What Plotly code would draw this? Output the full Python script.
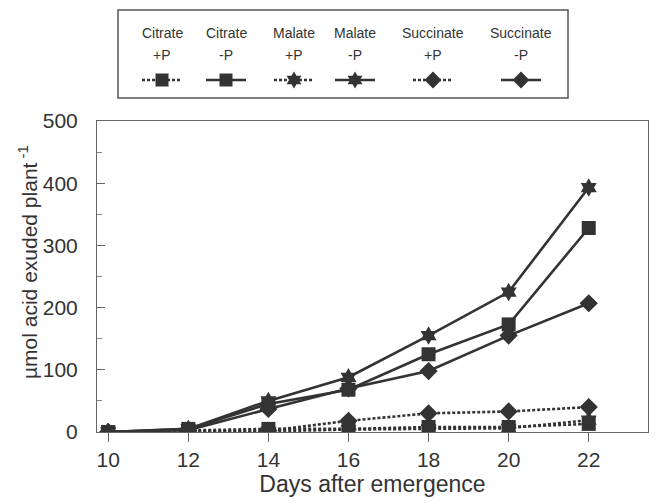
import plotly.graph_objects as go

days = [10, 12, 14, 16, 18, 20, 22]
citrate_plusP = [0, 2, 5, 5, 8, 8, 13]
citrate_minusP = [0, 5, 45, 68, 125, 173, 328]
malate_plusP = [0, 0, 1, 4, 5, 6, 19]
malate_minusP = [0, 5, 50, 88, 155, 225, 393]
succinate_plusP = [0, 0, 2, 18, 30, 33, 40]
succinate_minusP = [0, 3, 37, 70, 98, 155, 207]

legend_line1 = ["Citrate", "Citrate", "Malate", "Malate", "Succinate", "Succinate"]
legend_line2 = ["+P", "-P", "+P", "-P", "+P", "-P"]

INK = "#333333"
FONT = "Liberation Sans, Arial, sans-serif"

W, H = 659, 503
ML, MR, MT, MB = 97, 11, 5, 71
PW = W - ML - MR
PH = H - MT - MB
def py(pix):  # pixel y -> paper y
    return (H - MB - pix) / PH
def px(pix):
    return (pix - ML) / PW

DOT = "3px,2px"
series = [
    ("Citrate +P", citrate_plusP, "square", 14, DOT),
    ("Citrate -P", citrate_minusP, "square", 14, "solid"),
    ("Malate +P", malate_plusP, "hexagram", 14, DOT),
    ("Malate -P", malate_minusP, "hexagram", 14, "solid"),
    ("Succinate +P", succinate_plusP, "diamond", 14, DOT),
    ("Succinate -P", succinate_minusP, "diamond", 14, "solid"),
]

fig = go.Figure()
order = [0, 2, 4, 1, 3, 5]
for i in order:
    name, vals, sym, size, dash = series[i]
    fig.add_trace(go.Scatter(
        x=days, y=vals, mode="lines+markers", name=name, showlegend=False,
        line=dict(color=INK, width=2.6, dash=dash),
        marker=dict(symbol=sym, size=size, color=INK, line=dict(width=0)),
        xaxis="x", yaxis="y"))

leg_centers = [162, 226, 294, 355, 433, 521]
for i, (name, vals, sym, size, dash) in enumerate(series):
    c = leg_centers[i]
    fig.add_trace(go.Scatter(
        x=[c - 20, c + 20], y=[0, 0], mode="lines", showlegend=False, hoverinfo="skip",
        line=dict(color=INK, width=2.6, dash=dash),
        xaxis="x2", yaxis="y2"))
    fig.add_trace(go.Scatter(
        x=[c], y=[0], mode="markers", showlegend=False, hoverinfo="skip",
        marker=dict(symbol=sym, size=size - 1, color=INK, line=dict(width=0)),
        xaxis="x2", yaxis="y2"))
    for txt, yy in ((legend_line1[i], 33), (legend_line2[i], 55)):
        fig.add_annotation(x=px(c), y=py(yy), xref="paper", yref="paper",
                           xanchor="center", yanchor="middle",
                           text=txt, showarrow=False,
                           font=dict(size=14, color=INK, family=FONT))

fig.add_shape(type="rect", xref="paper", yref="paper",
              x0=px(118), x1=px(568), y0=py(98), y1=py(10),
              line=dict(color="#555555", width=1.5))

# y-axis title
fig.add_annotation(x=px(28), y=py(262), xref="paper", yref="paper",
                   xanchor="center", yanchor="middle", textangle=-90,
                   text="µmol acid exuded plant<sup> -1</sup>", showarrow=False,
                   font=dict(size=21, color=INK, family=FONT))

fig.update_layout(
    width=W, height=H,
    margin=dict(l=ML, r=MR, t=MT, b=MB, autoexpand=False),
    paper_bgcolor="white", plot_bgcolor="white",
    font=dict(family=FONT, color=INK),
    xaxis=dict(
        domain=[0, 1], range=[9.72, 23.48], tickmode="array", tickvals=days,
        ticks="outside", ticklen=9, tickcolor="#666666", tickwidth=1,
        showline=True, linecolor="#666666", linewidth=1, mirror=True,
        showgrid=False, zeroline=False, automargin=False,
        tickfont=dict(size=21, color=INK),
        title=dict(text="Days after emergence", font=dict(size=23, color=INK), standoff=4),
    ),
    yaxis=dict(
        domain=[0, py(121)], range=[0, 500], tickmode="array",
        tickvals=[0, 100, 200, 300, 400, 500],
        ticks="inside", ticklen=8, tickcolor="#666666", tickwidth=1,
        minor=dict(tickvals=[50, 150, 250, 350, 450], ticks="inside", ticklen=5,
                   tickcolor="#888888"),
        showline=True, linecolor="#666666", linewidth=1, mirror=True,
        showgrid=False, zeroline=False, automargin=False,
        ticklabelstandoff=14,
        tickfont=dict(size=21, color=INK),
    ),
    xaxis2=dict(domain=[0, 1], range=[ML, W - MR], visible=False, anchor="y2"),
    yaxis2=dict(domain=[py(90), py(70)], range=[-1, 1], visible=False, anchor="x2"),
)

fig.write_html("out.html", post_script="document.body.style.margin='0';",
               config={"displayModeBar": False})
